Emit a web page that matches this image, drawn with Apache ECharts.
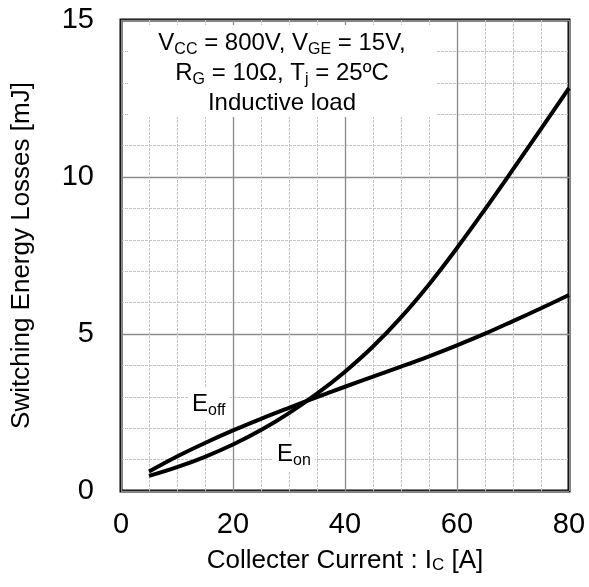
<!DOCTYPE html>
<html>
<head>
<meta charset="utf-8">
<script src="https://cdn.jsdelivr.net/npm/echarts@6/dist/echarts.min.js"></script>
<style>html,body{margin:0;padding:0;background:#fff}#c{width:589px;height:587px}</style>
</head>
<body>
<div id="c"></div>
<script>
// Data
var currentEon  = [5, 10, 15, 20, 25, 30, 35, 40, 45, 50, 55, 60, 65, 70, 75, 80];
var energyEon   = [0.48, 0.76, 1.09, 1.48, 1.94, 2.48, 3.10, 3.80, 4.60, 5.53, 6.58, 7.74, 8.97, 10.24, 11.53, 12.83];
var currentEoff = [5, 10, 15, 20, 25, 30, 35, 40, 45, 50, 55, 60, 65, 70, 75, 80];
var energyEoff  = [0.62, 1.10, 1.53, 1.93, 2.30, 2.65, 2.99, 3.32, 3.64, 3.96, 4.29, 4.64, 5.01, 5.41, 5.82, 6.24];
var xTicks = [0, 20, 40, 60, 80];
var yTicks = [0, 5, 10, 15];

function pairs(xs, ys) { return xs.map(function (x, i) { return [x, ys[i]]; }); }

var FONT = 'Liberation Sans, Arial, sans-serif';
var chart = echarts.init(document.getElementById('c'));
var sub = { fontSize: 16, fontFamily: FONT, color: '#000', verticalAlign: 'bottom', lineHeight: 20 };
var main = { fontSize: 24, fontFamily: FONT, color: '#000', lineHeight: 30, verticalAlign: 'middle' };

chart.setOption({
  animation: false,
  backgroundColor: '#fff',
  grid: { left: 121, right: 20, top: 20, bottom: 96, show: true, borderColor: '#000', borderWidth: 3, backgroundColor: 'transparent' },
  xAxis: {
    type: 'value', min: xTicks[0], max: xTicks[xTicks.length - 1], interval: 20,
    axisLine: { show: false }, axisTick: { show: false },
    axisLabel: { fontSize: 29, fontFamily: FONT, color: '#000', margin: 19 },
    splitLine: { show: true, lineStyle: { color: '#8a8a8a', width: 1.3 } },
    minorTick: { show: true, splitNumber: 4, length: 0 },
    minorSplitLine: { show: true, lineStyle: { color: '#c4c4c4', type: [3, 1], width: 1 } },
    name: 'Collecter Current : I{s|C} [A]', nameLocation: 'middle', nameGap: 57,
    nameTextStyle: { fontSize: 26, fontFamily: FONT, color: '#000',
      rich: { s: { fontSize: 17, fontFamily: FONT, color: '#000', verticalAlign: 'bottom', lineHeight: 22 } } }
  },
  yAxis: {
    type: 'value', min: yTicks[0], max: yTicks[yTicks.length - 1], interval: 5,
    axisLine: { show: false }, axisTick: { show: false },
    axisLabel: { fontSize: 29, fontFamily: FONT, color: '#000', margin: 27 },
    splitLine: { show: true, lineStyle: { color: '#8a8a8a', width: 1.3 } },
    minorTick: { show: true, splitNumber: 5, length: 0 },
    minorSplitLine: { show: true, lineStyle: { color: '#c4c4c4', type: [3, 1], width: 1 } },
    name: 'Switching Energy Losses [mJ]', nameLocation: 'middle', nameGap: 86,
    nameTextStyle: { fontSize: 26, fontFamily: FONT, color: '#000' }
  },
  graphic: [
    { type: 'rect', z: 100, shape: { x: 128, y: 25, width: 308, height: 92 }, style: { fill: '#fff' } },
    { type: 'text', z: 101, x: 282, y: 43, style: {
        text: '{m|V}{s|CC}{m| = 800V, V}{s|GE}{m| = 15V,}', align: 'center', verticalAlign: 'middle',
        rich: { m: main, s: sub } } },
    { type: 'text', z: 101, x: 282, y: 73, style: {
        text: '{m|R}{s|G}{m| = 10Ω, T}{s|j}{m| = 25ºC}', align: 'center', verticalAlign: 'middle',
        rich: { m: main, s: sub } } },
    { type: 'text', z: 101, x: 282, y: 103, style: {
        text: '{m|Inductive load}', align: 'center', verticalAlign: 'middle',
        rich: { m: main, s: sub } } },
    { type: 'text', z: 101, x: 188, y: 404, style: {
        text: '{m|E}{s|off}', align: 'left', verticalAlign: 'middle', backgroundColor: '#fff', padding: [2, 4, 2, 4],
        rich: { m: main, s: sub } } },
    { type: 'text', z: 101, x: 273, y: 454, style: {
        text: '{m|E}{s|on}', align: 'left', verticalAlign: 'middle', backgroundColor: '#fff', padding: [2, 4, 2, 4],
        rich: { m: main, s: sub } } }
  ],
  series: [
    { name: 'Eoff', type: 'line', data: pairs(currentEoff, energyEoff), smooth: 0.4, showSymbol: false,
      lineStyle: { color: '#000', width: 4 }, z: 5 },
    { name: 'Eon', type: 'line', data: pairs(currentEon, energyEon), smooth: 0.4, showSymbol: false,
      lineStyle: { color: '#000', width: 4 }, z: 5 }
  ]
});
</script>
</body>
</html>
